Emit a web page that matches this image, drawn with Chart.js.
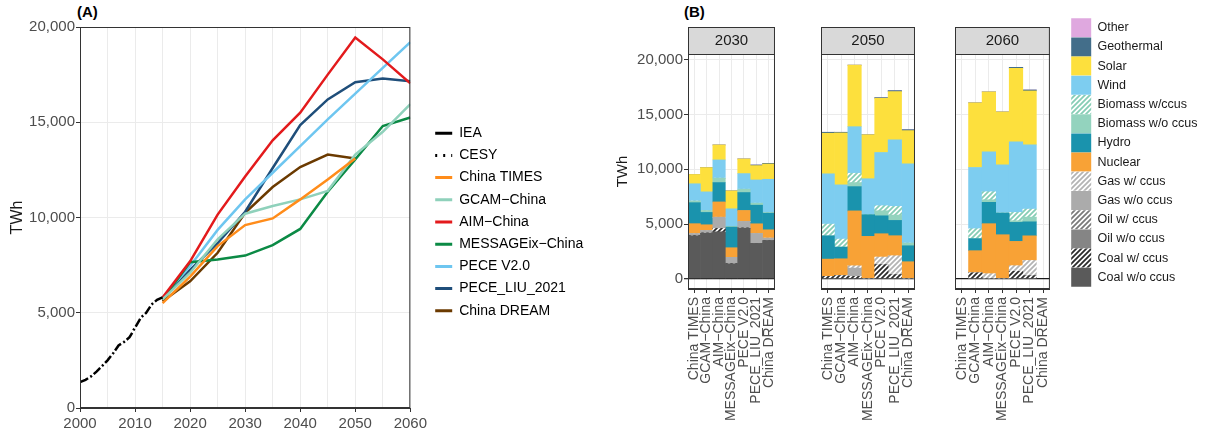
<!DOCTYPE html>
<html>
<head>
<meta charset="utf-8">
<script src="https://cdn.jsdelivr.net/npm/chart.js@4.4.1/dist/chart.umd.min.js"></script>
<style>
  body { margin: 0; width: 1210px; height: 438px; overflow: hidden; background: #fff; position: relative; font-family: "Liberation Sans", Arial, sans-serif; }
  canvas, .tag { position: absolute; }
  .tag { font-weight: bold; font-size: 15px; color: #000; }
</style>
</head>
<body>
<div class="tag" style="left:77px;top:3px">(A)</div>
<div class="tag" style="left:684px;top:3px">(B)</div>
<canvas id="lines" width="430" height="438" style="left:0;top:0"></canvas>
<canvas id="linesLegend" width="200" height="438" style="left:420px;top:0"></canvas>
<canvas id="f2030" width="190" height="438" style="left:600px;top:0"></canvas>
<canvas id="f2050" width="130" height="438" style="left:800px;top:0"></canvas>
<canvas id="f2060" width="130" height="438" style="left:935px;top:0"></canvas>
<canvas id="mixLegend" width="150" height="438" style="left:1060px;top:0"></canvas>
<script>
// ---- (A) total generation, TWh ----
var histYears = [2000, 2001, 2002, 2003, 2004, 2005, 2006, 2007, 2008, 2009, 2010, 2011, 2012, 2013, 2014, 2015];
var iea  = [1356, 1480, 1654, 1911, 2200, 2500, 2866, 3282, 3467, 3715, 4207, 4713, 4988, 5432, 5679, 5811];
var cesy = [1369, 1484, 1660, 1911, 2204, 2500, 2866, 3282, 3467, 3715, 4228, 4730, 4987, 5434, 5680, 5815];

var years = [2015, 2020, 2025, 2030, 2035, 2040, 2045, 2050, 2055, 2060];
var chinaTimes  = [5500, 6900, 8500, 9600, 9950, 10950, 12000, 13100, null, null];
var gcamChina   = [5700, 7100, 8850, 10200, 10600, 10950, 11400, 13300, 14500, 15950];
var aimChina    = [5800, 7700, 10150, 12150, 14050, 15500, 17500, 19450, 18300, 17050];
var messageix   = [5700, 7650, 7800, 8000, 8550, 9400, 11350, 13050, 14800, 15250];
var peceV2      = [5800, 7450, 9350, 10950, 12350, 13750, 15150, 16500, 17850, 19200];
var peceLiu     = [5700, 7250, 8650, 10300, 12600, 14850, 16200, 17100, 17300, 17150];
var chinaDream  = [5600, 6650, 8150, 10250, 11600, 12650, 13300, 13100, null, null];

// ---- (B) generation mix by model, TWh ----
var models = ['China TIMES', 'GCAM\u2212China', 'AIM\u2212China', 'MESSAGEix\u2212China', 'PECE V2.0', 'PECE_LIU_2021', 'China DREAM'];
// stacking order, bottom to top
var fuels = ['Coal w/o ccus', 'Coal w/ ccus', 'Oil w/o ccus', 'Oil w/ ccus', 'Gas w/o ccus', 'Gas w/ ccus', 'Nuclear', 'Hydro',
             'Biomass w/o ccus', 'Biomass w/ccus', 'Wind', 'Solar', 'Geothermal', 'Other'];

var coal2030     = [3930, 4170, 4290, 1370, 4630, 3230, 3500];
var coalCcus2030 = [0, 0, 300, 0, 0, 0, 0];
var oil2030      = [0, 0, 0, 0, 0, 0, 0];
var oilCcus2030  = [0, 0, 0, 0, 0, 0, 0];
var gas2030      = [200, 240, 1030, 580, 610, 910, 210];
var gasCcus2030  = [0, 0, 0, 0, 0, 0, 0];
var nuclear2030  = [900, 520, 1400, 880, 1000, 880, 760];
var hydro2030    = [1920, 1130, 1770, 1890, 1640, 1700, 1520];
var bio2030      = [150, 180, 400, 60, 300, 180, 60];
var bioCcus2030  = [0, 0, 0, 0, 0, 0, 0];
var wind2030     = [1580, 1700, 1670, 1610, 1430, 2130, 3040];
var solar2030    = [850, 2220, 1370, 1640, 1340, 1310, 1400];
var geo2030      = [0, 0, 0, 0, 0, 60, 60];
var other2030    = [0, 0, 0, 0, 0, 0, 0];

var coal2050     = [0, 0, 0, 0, 0, 0, 0];
var coalCcus2050 = [210, 270, 210, 0, 1280, 370, 0];
var oil2050      = [0, 0, 0, 0, 0, 0, 0];
var oilCcus2050  = [0, 0, 0, 0, 0, 0, 0];
var gas2050      = [0, 0, 760, 0, 0, 0, 0];
var gasCcus2050  = [0, 0, 210, 0, 700, 1730, 0];
var nuclear2050  = [1580, 1550, 5020, 3870, 2130, 1830, 1550];
var hydro2050    = [2130, 1070, 2220, 1980, 1640, 1400, 1460];
var bio2050      = [0, 0, 370, 0, 460, 490, 240];
var bioCcus2050  = [1070, 730, 850, 0, 460, 790, 0];
var wind2050     = [4600, 4960, 4260, 3290, 4870, 6090, 7250];
var solar2050    = [3710, 4750, 5630, 4020, 4960, 4410, 3040];
var geo2050      = [90, 60, 0, 0, 60, 90, 90];
var other2050    = [0, 0, 0, 0, 0, 0, 0];

var coal2060     = [null, 0, 0, 0, 0, 0, null];
var coalCcus2060 = [null, 520, 0, 0, 670, 270, null];
var oil2060      = [null, 0, 0, 0, 0, 0, null];
var oilCcus2060  = [null, 0, 0, 0, 0, 0, null];
var gas2060      = [null, 0, 0, 0, 0, 0, null];
var gasCcus2060  = [null, 0, 460, 0, 520, 1400, null];
var nuclear2060  = [null, 2040, 4570, 4020, 2220, 2250, null];
var hydro2060    = [null, 1100, 1950, 1980, 1740, 1280, null];
var bio2060      = [null, 0, 240, 0, 150, 430, null];
var bioCcus2060  = [null, 910, 730, 0, 760, 730, null];
var wind2060     = [null, 5600, 3650, 4410, 6450, 5880, null];
var solar2060    = [null, 5910, 5480, 4840, 6730, 4930, null];
var geo2060      = [null, 0, 0, 0, 90, 90, null];
var other2060    = [null, 0, 0, 0, 0, 0, null];

var yTicksB = [0, 5000, 10000, 15000, 20000];

Chart.defaults.font.family = '"Liberation Sans", Arial, sans-serif';
Chart.defaults.animation = false;
Chart.defaults.events = [];

// diagonal hatch used for the "w/ ccus" categories
function hatch(color) {
  var s = 5, cv = document.createElement('canvas');
  cv.width = s; cv.height = s;
  var c = cv.getContext('2d');
  c.fillStyle = '#fff'; c.fillRect(0, 0, s, s);
  c.strokeStyle = color; c.lineWidth = 1.8;
  c.beginPath();
  c.moveTo(-1, 1); c.lineTo(1, -1);
  c.moveTo(0, s); c.lineTo(s, 0);
  c.moveTo(s - 1, s + 1); c.lineTo(s + 1, s - 1);
  c.stroke();
  return c.createPattern(cv, 'repeat');
}
var fuelFill = ['#5A5A5A', hatch('#2b2b2b'), '#858585', hatch('#7a7a7a'), '#ABABAB', hatch('#b4b4b4'), '#F8A236', '#1A93AD',
                '#93D3BE', hatch('#86cdb5'), '#7DCDF0', '#FDE03D', '#436E8A', '#DFA8DF'];

var frame = {
  id: 'frame',
  afterDraw: function (chart, args, opts) {
    var a = chart.chartArea, c = chart.ctx;
    c.save();
    c.strokeStyle = '#333'; c.lineWidth = 1;
    if (opts.strip) {
      c.fillStyle = '#D9D9D9';
      c.fillRect(a.left, a.top - 27, a.right - a.left, 27);
      c.strokeRect(a.left + 0.5, a.top - 26.5, a.right - a.left - 1, 27);
      c.fillStyle = '#1A1A1A'; c.font = '15px "Liberation Sans", Arial';
      c.textAlign = 'center'; c.textBaseline = 'middle';
      c.fillText(opts.strip, (a.left + a.right) / 2, a.top - 13);
    }
    c.strokeRect(a.left + 0.5, a.top + 0.5, a.right - a.left - 1, a.bottom - a.top - 1);
    c.restore();
  }
};

// ---- panel A ----
function pts(xs, ys) { return xs.map(function (x, i) { return {x: x, y: ys[i]}; }); }
var lineSeries = [
  {label: 'IEA', data: pts(histYears, iea), borderColor: '#000', borderDash: [9, 7]},
  {label: 'CESY', data: pts(histYears, cesy), borderColor: '#000', borderDash: [2, 14], borderDashOffset: 4.5},
  {label: 'China TIMES', data: pts(years, chinaTimes), borderColor: '#FF8C1A'},
  {label: 'GCAM\u2212China', data: pts(years, gcamChina), borderColor: '#8FD1BB'},
  {label: 'AIM\u2212China', data: pts(years, aimChina), borderColor: '#E31A1C'},
  {label: 'MESSAGEix\u2212China', data: pts(years, messageix), borderColor: '#0B8A45'},
  {label: 'PECE V2.0', data: pts(years, peceV2), borderColor: '#6EC6F0'},
  {label: 'PECE_LIU_2021', data: pts(years, peceLiu), borderColor: '#1F4E7A'},
  {label: 'China DREAM', data: pts(years, chinaDream), borderColor: '#6B3A00'}
];
lineSeries.forEach(function (d) { d.borderWidth = 2.5; d.pointRadius = 0; d.fill = false; d.backgroundColor = d.borderColor; });

new Chart(document.getElementById('lines'), {
  type: 'line',
  data: {datasets: lineSeries},
  options: {
    responsive: false,
    layout: {padding: {top: 27, right: 19, left: 0, bottom: 0}},
    plugins: {legend: {display: false}, tooltip: {enabled: false}, frame: {}},
    scales: {
      x: {
        type: 'linear', min: 2000, max: 2060,
        grid: {color: '#EBEBEB', tickLength: 4, tickColor: function (ctx) { return ctx.tick && ctx.tick.value % 10 === 0 ? '#333' : 'rgba(0,0,0,0)'; }},
        border: {color: '#333'},
        ticks: {stepSize: 5, autoSkip: false, maxRotation: 0, padding: 3, color: '#4D4D4D', font: {size: 15},
                callback: function (v) { return v % 10 === 0 ? String(v) : ''; }},
        afterFit: function (s) { s.height = 30; }
      },
      y: {
        min: 0, max: 20000,
        grid: {color: '#EBEBEB', tickLength: 4, tickColor: '#333'},
        border: {color: '#333'},
        ticks: {stepSize: 5000, padding: 1, color: '#4D4D4D', font: {size: 15}},
        title: {display: true, text: 'TWh', color: '#1A1A1A', font: {size: 16}, padding: {top: 8, bottom: 0}},
        afterFit: function (s) { s.width = 80; }
      }
    }
  },
  plugins: [frame]
});

new Chart(document.getElementById('linesLegend'), {
  type: 'line',
  data: {datasets: lineSeries.map(function (d) { return Object.assign({}, d, {data: []}); })},
  options: {
    responsive: false,
    layout: {padding: {left: 7, top: 118}},
    scales: {x: {display: false}, y: {display: false}},
    plugins: {
      tooltip: {enabled: false},
      legend: {
        position: 'left', align: 'start', maxWidth: 200,
        labels: {
          usePointStyle: true, pointStyle: 'line', pointStyleWidth: 17, padding: 8.2,
          color: '#000', font: {size: 14},
          generateLabels: function (chart) {
            var items = Chart.defaults.plugins.legend.labels.generateLabels(chart);
            items.forEach(function (it) {
              it.lineWidth = 3; it.lineDashOffset = 0;
              it.lineDash = it.text === 'CESY' ? [2, 6] : [];
            });
            return items;
          }
        }
      }
    }
  }
});

// ---- panel B ----
var mix = {
  '2030': [coal2030, coalCcus2030, oil2030, oilCcus2030, gas2030, gasCcus2030, nuclear2030, hydro2030, bio2030, bioCcus2030, wind2030, solar2030, geo2030, other2030],
  '2050': [coal2050, coalCcus2050, oil2050, oilCcus2050, gas2050, gasCcus2050, nuclear2050, hydro2050, bio2050, bioCcus2050, wind2050, solar2050, geo2050, other2050],
  '2060': [coal2060, coalCcus2060, oil2060, oilCcus2060, gas2060, gasCcus2060, nuclear2060, hydro2060, bio2060, bioCcus2060, wind2060, solar2060, geo2060, other2060]
};

function facet(id, year, padL, padR, showY) {
  new Chart(document.getElementById(id), {
    type: 'bar',
    data: {
      labels: models,
      datasets: fuels.map(function (f, i) {
        return {label: f, data: mix[year][i], backgroundColor: fuelFill[i], borderWidth: 0,
                categoryPercentage: 1, barPercentage: 1};
      })
    },
    options: {
      responsive: false,
      layout: {padding: {top: 54, bottom: 0, left: padL, right: padR}},
      plugins: {legend: {display: false}, tooltip: {enabled: false}, frame: {strip: year}},
      scales: {
        x: {
          stacked: true,
          grid: {offset: false, color: '#EBEBEB', tickLength: 4, tickColor: '#333'},
          border: {color: '#333'},
          ticks: {autoSkip: false, minRotation: 90, maxRotation: 90, padding: 4, color: '#4D4D4D', font: {size: 14}},
          afterFit: function (s) { s.height = 149; }
        },
        y: {
          stacked: true, min: -944, max: 20547,
          afterBuildTicks: function (s) { s.ticks = yTicksB.map(function (v) { return {value: v}; }); },
          grid: {
            color: function (ctx) { return ctx.tick && ctx.tick.value === 0 ? '#1A1A1A' : '#EBEBEB'; },
            lineWidth: function (ctx) { return ctx.tick && ctx.tick.value === 0 ? 1.3 : 1; },
            drawTicks: showY, tickLength: 4, tickColor: '#333'
          },
          border: {color: '#333'},
          ticks: {display: showY, padding: 1, color: '#4D4D4D', font: {size: 15}},
          title: {display: showY, text: 'TWh', color: '#1A1A1A', font: {size: 15}, padding: {top: 14, bottom: 0}},
          afterFit: function (s) { s.width = showY ? 88 : 0; }
        }
      }
    },
    plugins: [frame]
  });
}
facet('f2030', '2030', 0, 6, true);
facet('f2050', '2050', 21, 13, false);
facet('f2060', '2060', 20, 15, false);

new Chart(document.getElementById('mixLegend'), {
  type: 'bar',
  data: {datasets: fuels.map(function (f, i) { return {label: f, data: [], backgroundColor: fuelFill[i], borderWidth: 0}; }).reverse()},
  options: {
    responsive: false,
    layout: {padding: {left: 11, top: 18}},
    scales: {x: {display: false}, y: {display: false}},
    plugins: {
      tooltip: {enabled: false},
      legend: {
        position: 'left', align: 'start', maxWidth: 150,
        labels: {boxWidth: 20, boxHeight: 19, padding: 0.2, color: '#1A1A1A', font: {size: 12.5}}
      }
    }
  }
});
</script>
</body>
</html>
